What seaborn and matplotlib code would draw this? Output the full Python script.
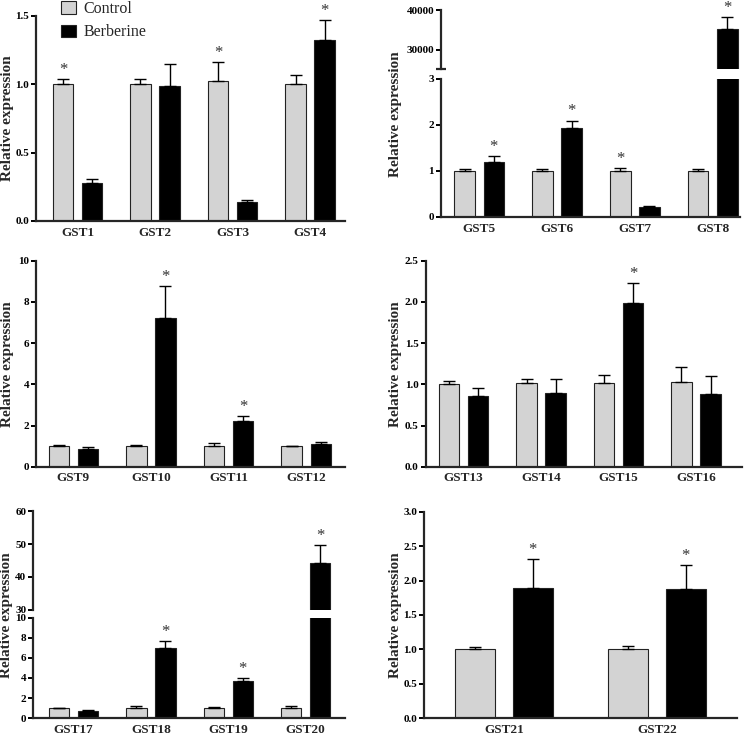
import pandas as pd
import seaborn as sns
import matplotlib.pyplot as plt
from matplotlib.patches import Patch
from matplotlib.ticker import FormatStrFormatter

# Values: bar height and upper error bar for each gene
genes = ["GST1", "GST2", "GST3", "GST4", "GST5", "GST6", "GST7", "GST8",
         "GST9", "GST10", "GST11", "GST12", "GST13", "GST14", "GST15", "GST16",
         "GST17", "GST18", "GST19", "GST20", "GST21", "GST22"]
control_mean = [1.00, 1.00, 1.02, 1.00, 1.00, 1.00, 1.00, 1.00,
                1.00, 1.00, 1.02, 1.00, 1.00, 1.01, 1.01, 1.03,
                1.00, 1.05, 1.05, 1.05, 1.00, 1.00]
control_err = [0.04, 0.04, 0.14, 0.07, 0.05, 0.05, 0.07, 0.04,
               0.05, 0.07, 0.13, 0.02, 0.04, 0.06, 0.10, 0.18,
               0.03, 0.15, 0.12, 0.20, 0.04, 0.05]
berberine_mean = [0.28, 0.99, 0.14, 1.32, 1.20, 1.93, 0.21, 35400,
                  0.87, 7.22, 2.22, 1.10, 0.86, 0.90, 1.99, 0.88,
                  0.74, 6.98, 3.66, 44.2, 1.89, 1.88]
berberine_err = [0.03, 0.16, 0.01, 0.15, 0.12, 0.16, 0.02, 3050,
                 0.07, 1.55, 0.25, 0.09, 0.10, 0.17, 0.24, 0.22,
                 0.10, 0.70, 0.37, 5.6, 0.42, 0.34]
control_star = ["GST1", "GST3", "GST7"]
berberine_star = ["GST4", "GST5", "GST6", "GST8", "GST10", "GST11", "GST15",
                  "GST18", "GST19", "GST20", "GST21", "GST22"]
groups = ["Control", "Berberine"]
colors = {"Control": "#d3d3d3", "Berberine": "#000000"}

df = pd.concat([
    pd.DataFrame({"gene": genes, "group": "Control", "value": control_mean, "err": control_err}),
    pd.DataFrame({"gene": genes, "group": "Berberine", "value": berberine_mean, "err": berberine_err}),
], ignore_index=True)
stars = {"Control": control_star, "Berberine": berberine_star}

sns.set_theme(style="ticks")
plt.rcParams["font.family"] = ["Liberation Serif", "DejaVu Serif"]

W, H = 754, 735
fig = plt.figure(figsize=(W / 100, H / 100), dpi=100)


def px_axes(left, top, right, bottom):
    return fig.add_axes([left / W, 1 - bottom / H, (right - left) / W, (bottom - top) / H])


# layout in pixels: each panel has one or two (broken axis) stacked parts, lowest first
panels = [
    dict(genes=genes[0:4], boxes=[(36, 15.7, 345, 221)], ylims=[(0, 1.5)],
         ticks=[[0, 0.5, 1.0, 1.5]], fmt="%.1f", xlim=(-0.535, 3.45), label_x=7.5),
    dict(genes=genes[4:8], boxes=[(441, 78.5, 740, 217), (441, 10.5, 740, 69.3)],
         ylims=[(0, 3), (25000, 40000)], ticks=[[0, 1, 2, 3], [30000, 40000]],
         fmt="%d", xlim=(-0.49, 3.35), label_x=395),
    dict(genes=genes[8:12], boxes=[(36, 260.7, 345, 466.7)], ylims=[(0, 10)],
         ticks=[[0, 2, 4, 6, 8, 10]], fmt="%d", xlim=(-0.48, 3.5), label_x=7.5),
    dict(genes=genes[12:16], boxes=[(425.7, 260.7, 741.7, 466.7)], ylims=[(0, 2.5)],
         ticks=[[0, 0.5, 1.0, 1.5, 2.0, 2.5]], fmt="%.1f", xlim=(-0.49, 3.59), label_x=395),
    dict(genes=genes[16:20], boxes=[(33.3, 617.5, 345, 718.3), (33.3, 511.3, 345, 609.5)],
         ylims=[(0, 10), (30, 60)], ticks=[[0, 2, 4, 6, 8, 10], [30, 40, 50, 60]],
         fmt="%d", xlim=(-0.52, 3.51), label_x=7),
    dict(genes=genes[20:22], boxes=[(424.3, 511.7, 736.7, 718.3)], ylims=[(0, 3)],
         ticks=[[0, 0.5, 1.0, 1.5, 2.0, 2.5, 3.0]], fmt="%.1f", xlim=(-0.52, 1.52), label_x=395),
]

for p in panels:
    sub = df[df["gene"].isin(p["genes"])]
    broken = len(p["boxes"]) > 1
    for k, (box, ylim, ticks) in enumerate(zip(p["boxes"], p["ylims"], p["ticks"])):
        ax = px_axes(*box)
        sns.barplot(data=sub, x="gene", y="value", hue="group", order=p["genes"],
                    hue_order=groups, palette=colors, errorbar=None, width=0.75, gap=0.3,
                    edgecolor="#222222", linewidth=0.8, legend=False, ax=ax)
        for i, grp in enumerate(groups):
            for bar, gene in zip(ax.containers[i], p["genes"]):
                row = sub[(sub["gene"] == gene) & (sub["group"] == grp)].iloc[0]
                x = bar.get_x() + bar.get_width() / 2
                top = bar.get_height()
                ax.errorbar(x, top, yerr=[[0], [row["err"]]], fmt="none", ecolor="black",
                            elinewidth=1.0, capsize=4, capthick=1.0)
                if gene in stars[grp]:
                    ax.annotate("*", xy=(x, top + row["err"]), xytext=(0, 6.5),
                                textcoords="offset points", ha="center", va="center",
                                fontsize=12, color="#333333")
        ax.set_xlim(*p["xlim"])
        ax.set_ylim(*ylim)
        ax.set_yticks(ticks)
        ax.yaxis.set_major_formatter(FormatStrFormatter(p["fmt"]))
        ax.set_xlabel("")
        ax.set_ylabel("")
        sns.despine(ax=ax)
        ax.spines["left"].set_linewidth(1.6)
        ax.spines["bottom"].set_linewidth(1.6)
        ax.tick_params(axis="y", direction="out", length=3.5, width=1.4, pad=1.5,
                       labelsize=8, colors="black")
        ax.tick_params(axis="x", length=0, pad=4, labelsize=9.5)
        for lab in ax.get_yticklabels() + ax.get_xticklabels():
            lab.set_fontweight("bold")
        if broken:
            # break marks across the axis line
            mark = ylim[1] if k == 0 else ylim[0]
            ax.set_yticks([mark], minor=True)
            ax.tick_params(axis="y", which="minor", direction="inout", length=7, width=1.6)
            if k == 1:
                ax.spines["bottom"].set_visible(False)
                ax.set_xticks([])
    top_px = p["boxes"][-1][1]
    bottom_px = p["boxes"][0][3]
    fig.text(p["label_x"] / W, 1 - (top_px + bottom_px) / 2 / H, "Relative expression",
             rotation=90, ha="center", va="center", fontsize=11, fontweight="bold")

handles = [Patch(facecolor=colors["Control"], edgecolor="#222222", linewidth=0.8, label="Control"),
           Patch(facecolor=colors["Berberine"], edgecolor="#222222", linewidth=0.8, label="Berberine")]
fig.legend(handles=handles, loc="upper left", bbox_to_anchor=(61 / W, 1 - 1 / H), frameon=False,
           fontsize=11.5, handlelength=0.95, handleheight=0.8, handletextpad=0.45,
           labelspacing=0.45, borderpad=0, borderaxespad=0)

fig.savefig("out.png", dpi=100)
